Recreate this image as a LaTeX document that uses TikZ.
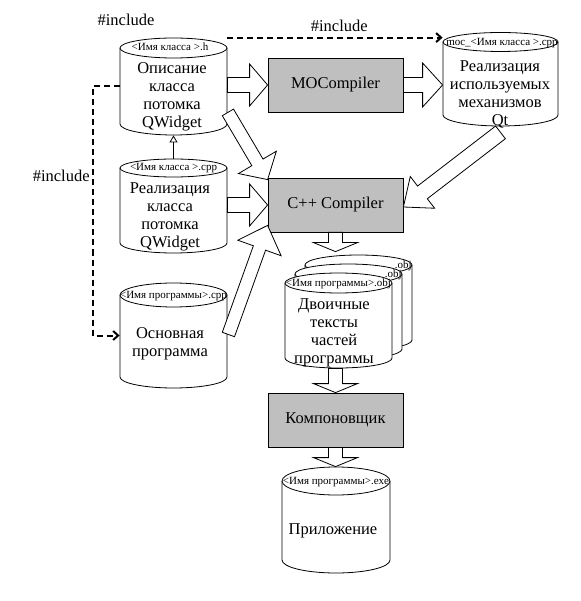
\documentclass[tikz,border=0pt]{standalone}
\usepackage{fontspec}
\setmainfont{Liberation Serif}
\usetikzlibrary{calc,arrows.meta}

\tikzstyle{box}=[rectangle, draw, fill=gray!50, minimum width=135, minimum height=54, inner sep=0pt, font=\fontsize{16.5}{18}\selectfont]
\tikzstyle{drumtext}=[align=center, inner sep=0pt, font=\fontsize{16.5}{18}\selectfont]
\tikzstyle{incltext}=[inner sep=0pt, font=\fontsize{16.5}{18}\selectfont]
\tikzstyle{tag}=[inner sep=0pt, font=\fontsize{11}{11}\selectfont]
\tikzstyle{incl}=[line width=2pt, dash pattern=on 6pt off 4pt, -{Straight Barb[length=5pt,width=9pt]}]
\tikzstyle{bigarrow}=[draw, fill=white, line width=0.8pt]

\newcommand\drum[7]{%
  \draw[fill=white] (#2-#5,#3) -- (#2-#5,#4) arc[start angle=180,end angle=360,x radius=#5pt,y radius=#7pt] -- (#2+#5,#3);
  \draw[fill=white] (#2,#3) ellipse[x radius=#5pt,y radius=#6pt];
  \node[inner sep=0pt,minimum width=2*#5,minimum height=#4-#3+#6+#7] (#1) at (#2,{(#3-#6+#4+#7)/2}) {};
}
\newcommand\blockarrow[5]{%
  \coordinate (ba-h) at ($(#2)!#5!(#1)$);
  \path[bigarrow] ($(#1)!#3!90:(#2)$) -- ($(ba-h)!#3!90:(#2)$) -- ($(ba-h)!#4!90:(#2)$) -- (#2)
    -- ($(ba-h)!#4!-90:(#2)$) -- ($(ba-h)!#3!-90:(#2)$) -- ($(#1)!#3!-90:(#2)$) -- cycle;
}

\begin{document}
\begin{tikzpicture}[x=1pt,y=-1pt,line width=0.8pt]
\useasboundingbox (0,0) rectangle (580,601);

\drum{hdr}{173.5}{48}{124}{53.5}{10}{11}
\node[tag] (hdrtag) at (170,47) {<Имя класса >.h};
\node[drumtext] (hdrtxt) at (172,97) {Описание\\класса\\потомка\\QWidget};

\drum{impl}{173.5}{168}{243}{53.5}{9}{10}
\node[tag] (impltag) at (173.5,168) {<Имя класса >.cpp};
\node[drumtext] (impltxt) at (170,217) {Реализация\\класса\\потомка\\QWidget};

\drum{prog}{173.5}{295}{377}{53.5}{12}{11}
\node[tag] (progtag) at (173.5,296) {<Имя программы>.cpp};
\node[drumtext] (progtxt) at (170,344) {Основная\\программа};

\drum{mocq}{500.5}{42}{115}{57.5}{9.5}{11}
\node[tag] (mocqtag) at (502,43) {moc\_<Имя класса >.cpp};
\node[drumtext] (mocqtxt) at (500,94) {Реализация\\используемых\\механизмов\\Qt};

\drum{objc}{358.5}{265}{340}{53.5}{10}{10}
\node[tag, anchor=east] (objctag) at (412,266) {.obj};
\drum{objb}{348.5}{274}{349}{53.5}{10}{10}
\node[tag, anchor=east] (objbtag) at (402,275) {.obj};
\drum{obja}{338.5}{283}{358}{53.5}{10}{10}
\node[tag] (objatag) at (338.5,284) {<Имя программы>.obj};
\node[drumtext] (objatxt) at (334,333) {Двоичные\\тексты\\частей\\программы};

\drum{exe}{336}{481}{560}{54}{14}{13}
\node[tag] (exetag) at (336,482) {<Имя программы>.exe};
\node[drumtext] (exetxt) at (333,531) {Приложение};

\node[box] (moc) at (335.5,85) {MOCompiler};
\node[box] (cpp) at (335.5,205) {C++ Compiler};
\node[box] (link) at (335.5,420) {Компоновщик};

\coordinate (hdr-r) at (hdr.east |- moc.west);
\coordinate (mocq-l) at (mocq.west |- moc.east);
\coordinate (impl-r) at (impl.east |- cpp.west);
\coordinate (hdr-d) at ($(hdr.south east)+(0.5,-23)$);
\coordinate (cpp-nw) at ($(cpp.north west)+(0,2)$);
\coordinate (prog-r) at ($(prog.east)+(1,-1)$);
\coordinate (cpp-sw) at ($(cpp.south west)+(0,-7)$);
\coordinate (mocq-d) at ($(mocq.south)+(0,6)$);
\coordinate (cpp-e) at ($(cpp.east)+(0,2)$);
\coordinate (objc-n) at ($(cpp.south |- objc.north)+(0,-3)$);
\coordinate (obja-s) at (link.north |- obja.south);
\coordinate (exe-n) at (link.south |- exe.north);

\blockarrow{hdr-r}{moc.west}{7.5pt}{21pt}{18pt}
\blockarrow{moc.east}{mocq-l}{7.5pt}{22pt}{20pt}
\blockarrow{impl-r}{cpp.west}{7.5pt}{21pt}{18pt}
\blockarrow{hdr-d}{cpp-nw}{6.5pt}{22pt}{20pt}
\blockarrow{prog-r}{cpp-sw}{6.5pt}{23pt}{24pt}
\blockarrow{mocq-d}{cpp-e}{8pt}{20pt}{24pt}
\blockarrow{cpp.south}{objc-n}{7pt}{22pt}{9pt}
\blockarrow{obja-s}{link.north}{7pt}{22pt}{9pt}
\blockarrow{link.south}{exe-n}{7pt}{22pt}{9pt}

\draw[-{Triangle[open,length=7pt,width=8pt]}] (impl.north) -- (hdr.south);

\node[incltext] (inclhdr) at (126,20) {\#include};
\draw[incl] (hdr.north east) -- node[incltext, above=5pt, pos=0.52] (inclmoc) {\#include} (mocq.west |- hdr.north);
\draw[incl] (hdr.west) -- ++(-27,0) |- node[incltext, left=2pt, pos=0.18] (inclprog) {\#include} (prog.west);
\end{tikzpicture}
\end{document}
